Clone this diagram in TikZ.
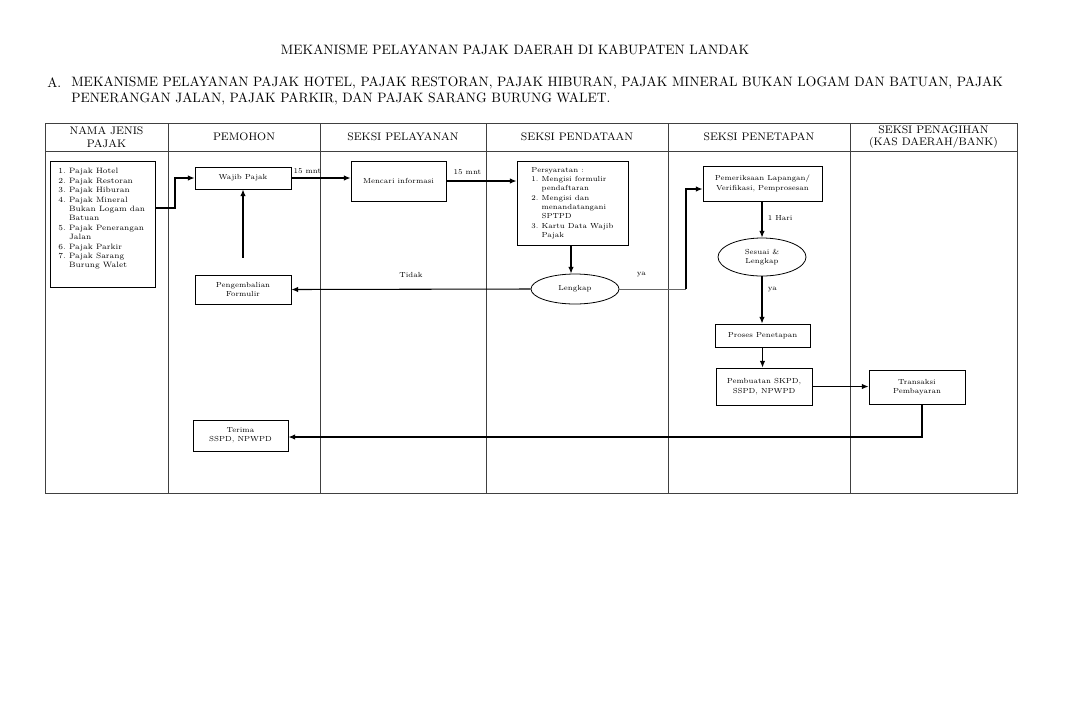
\documentclass[tikz,border=0pt]{standalone}
\usetikzlibrary{arrows.meta,shapes.geometric,calc}
\begin{document}
\begin{tikzpicture}[x=0.75pt,y=-0.75pt,
  box/.style={draw,line width=0.6pt,inner sep=1pt,align=center,font=\fontsize{5.5}{7}\selectfont},
  oval/.style={draw,ellipse,line width=0.6pt,inner sep=0pt,align=center,font=\fontsize{5.5}{7}\selectfont},
  arr/.style={line width=0.8pt,-{Latex[length=5pt,width=4pt]}},
  lbl/.style={font=\fontsize{5.5}{7}\selectfont,inner sep=0pt},
  hdr/.style={font=\fontsize{8.2}{9.5}\selectfont,align=center,inner sep=0pt},
  grid/.style={line width=0.5pt,draw=black!75}]
\useasboundingbox (0,0) rectangle (1080,704);
% titles
\node[font=\fontsize{10.2}{12}\selectfont,inner sep=0pt] (title) at (515,50) {MEKANISME PELAYANAN PAJAK DAERAH DI KABUPATEN LANDAK};
\node[font=\fontsize{10.2}{12}\selectfont,inner sep=0pt,anchor=west] (secA) at (47,83) {A.};
\node[font=\fontsize{10.2}{12.7}\selectfont,inner sep=0pt,anchor=north west,align=left] (secAtxt) at (71,76) {MEKANISME PELAYANAN PAJAK HOTEL, PAJAK RESTORAN, PAJAK HIBURAN, PAJAK MINERAL BUKAN LOGAM DAN BATUAN, PAJAK\\PENERANGAN JALAN, PAJAK PARKIR, DAN PAJAK SARANG BURUNG WALET.};
% table
\draw[grid] (45,123) rectangle (1017,493);
\draw[grid] (45,151) -- (1017,151);
\foreach \xx in {168,320,486,668,850} \draw[grid] (\xx,123) -- (\xx,493);
\node[hdr] (h1) at (106.5,137) {NAMA JENIS\\PAJAK};
\node[hdr] (h2) at (244,137) {PEMOHON};
\node[hdr] (h3) at (403,137) {SEKSI PELAYANAN};
\node[hdr] (h4) at (577,137) {SEKSI PENDATAAN};
\node[hdr] (h5) at (759,137) {SEKSI PENETAPAN};
\node[hdr] (h6) at (933.5,137) {SEKSI PENAGIHAN\\(KAS DAERAH/BANK)};
% nodes
\node[box,inner sep=0pt,anchor=north west] (list) at (50,161) {\parbox[c][94.5pt][t]{78.75pt}{\vspace{4.5pt}\fontsize{5.8}{7.05}\selectfont
\begin{tabular}{@{\hspace{6pt}}r@{\ }l}
1.&Pajak Hotel\\
2.&Pajak Restoran\\
3.&Pajak Hiburan\\
4.&Pajak Mineral\\
&Bukan Logam dan\\
&Batuan\\
5.&Pajak Penerangan\\
&Jalan\\
6.&Pajak Parkir\\
7.&Pajak Sarang\\
&Burung Walet
\end{tabular}}};
\node[box,minimum width=72pt,minimum height=16.5pt] (wp) at (243,178) {Wajib Pajak};
\node[box,minimum width=72pt,minimum height=21.75pt] (peng) at (243,289.5) {Pengembalian\\Formulir};
\node[box,minimum width=71.25pt,minimum height=23.25pt] (terima) at (240.5,435.5) {Terima\\SSPD, NPWPD};
\node[box,minimum width=71.25pt,minimum height=30pt] (cari) at (398.5,181) {Mencari informasi};
\node[box,minimum width=83.25pt,minimum height=63pt,align=left] (syarat) at (572.5,203) {%
\begin{tabular}{@{}r@{\ }l@{}}
\multicolumn{2}{@{}l}{Persyaratan :}\\
1.&Mengisi formulir\\
&pendaftaran\\
2.&Mengisi dan\\
&menandatangani\\
&SPTPD\\
3.&Kartu Data Wajib\\
&Pajak
\end{tabular}};
\node[oval,minimum width=66pt,minimum height=22.5pt] (lengkap) at (575,289) {Lengkap};
\node[box,minimum width=89.25pt,minimum height=26.25pt] (periksa) at (762.5,183.5) {Pemeriksaan Lapangan/\\Verifikasi, Pemprosesan};
\node[oval,minimum width=66pt,minimum height=28.5pt] (sesuai) at (762,257) {Sesuai \&\\Lengkap};
\node[box,minimum width=71.25pt,minimum height=17.25pt] (proses) at (762.5,335.5) {Proses Penetapan};
\node[box,minimum width=72pt,minimum height=27.75pt] (buat) at (764,386.5) {Pembuatan SKPD,\\SSPD, NPWPD};
\node[box,minimum width=72pt,minimum height=25.5pt] (trans) at (917,387) {Transaksi\\Pembayaran};
% connectors
\coordinate (c1) at (175,208);
\draw[arr] (list.east |- c1) -- (c1) |- (wp.west);
\draw[arr] (wp.east) -- (wp.east -| cari.west) node[lbl,pos=0.27,above=2.5pt] {15 mnt};
\draw[arr] (cari.east) -- (cari.east -| syarat.west) node[lbl,pos=0.3,above=4pt] {15 mnt};
\draw[arr] (syarat.south -| lengkap.north) ++(-4,0) coordinate (s1) -- (s1 |- lengkap.north);
\draw[arr] (lengkap.west) -- (peng.east) node[lbl,pos=0.5,above=8pt] {Tidak};
\coordinate (c2) at (686,289);
\draw[line width=0.5pt,draw=black!60] (lengkap.east) -- (c2) node[lbl,black,pos=0.33,above=9pt] {ya};
\draw[arr] (c2) |- (periksa.west |- 0,189);
\draw[arr] ([yshift=12.75pt]peng.north) -- (wp.south);
\draw[arr] (periksa.south -| sesuai.north) -- (sesuai.north) node[lbl,pos=0.45,right=4pt] {1 Hari};
\draw[arr] (sesuai.south) -- (sesuai.south |- proses.north) node[lbl,pos=0.28,right=4pt] {ya};
\draw[arr] (proses.south) -- (proses.south |- buat.north);
\draw[arr] (buat.east) -- (buat.east -| trans.west);
\coordinate (c3) at (922,437);
\draw[arr] (trans.south -| c3) -- (c3) -- (c3 -| terima.east);
\end{tikzpicture}
\end{document}
